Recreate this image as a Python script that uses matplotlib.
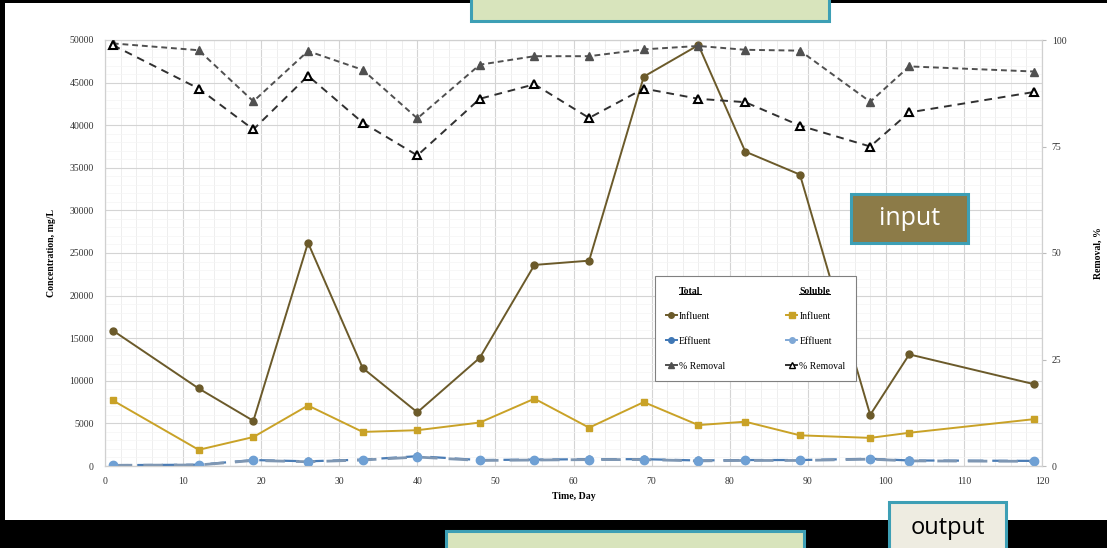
import numpy as np
import matplotlib
matplotlib.use("Agg")
import matplotlib.pyplot as plt
from matplotlib.lines import Line2D
from matplotlib.patches import Rectangle

plt.rcParams['font.family'] = ['Liberation Serif', 'DejaVu Serif']

# data
days = [1, 12, 19, 26, 33, 40, 48, 55, 62, 69, 76, 82, 89, 98, 103, 119]
total_influent = [15900, 9100, 5300, 26200, 11500, 6300, 12700, 23600, 24100,
                  45700, 49400, 36900, 34200, 6000, 13100, 9600]
soluble_influent = [7700, 1900, 3400, 7100, 4000, 4200, 5100, 7900, 4500,
                    7500, 4800, 5200, 3600, 3300, 3900, 5500]
total_effluent = [100, 150, 700, 550, 750, 1150, 700, 750, 800, 800, 650,
                  700, 700, 850, 650, 600]
soluble_effluent = [80, 120, 650, 500, 700, 1050, 650, 700, 750, 750, 600,
                    650, 650, 800, 600, 550]
total_removal = [99.2, 97.6, 85.6, 97.4, 93.0, 81.6, 94.2, 96.2, 96.2,
                 97.8, 98.6, 97.7, 97.5, 85.5, 93.8, 92.6]
soluble_removal = [98.8, 88.6, 79.0, 91.6, 80.6, 72.9, 86.2, 89.6, 81.7,
                   88.6, 86.2, 85.4, 79.9, 75.0, 83.0, 87.8]

fig = plt.figure(figsize=(11.07, 5.48), dpi=100)
fig.patch.set_facecolor('black')

W, H = 1107.0, 548.0
def px(x0, y0, x1, y1):
    # pixel box -> figure fraction rect
    return (x0 / W, 1 - y1 / H, (x1 - x0) / W, (y1 - y0) / H)

# white slide panel
r = px(5, 3, 1107, 520)
fig.patches.append(Rectangle(r[:2], r[2], r[3], transform=fig.transFigure,
                             facecolor='white', edgecolor='none', zorder=-5))

ax = fig.add_axes(px(105, 40, 1042, 466))
ax.set_facecolor('white')
ax2 = ax.twinx()

ax.plot(days, total_influent, color='#6b5a2a', marker='o', ms=5, lw=1.4, zorder=3)
ax.plot(days, soluble_influent, color='#c9a227', marker='s', ms=5, lw=1.4, zorder=3)
ax.plot(days, total_effluent, color='#4a7cb5', marker='o', ms=5, lw=1.6,
        dashes=(7, 4), zorder=3)
ax.plot(days, soluble_effluent, color='#7f97b3', marker='o', ms=6, lw=2,
        dashes=(7, 4), markerfacecolor='#6fa0d4', markeredgecolor='#6fa0d4', zorder=4)

ax2.plot(days, total_removal, color='#505050', marker='^', ms=6, lw=1.4,
         dashes=(3, 2), zorder=3)
ax2.plot(days, soluble_removal, color='#303030', marker='^', ms=6, lw=1.4,
         dashes=(4, 3), markerfacecolor='white', markeredgecolor='black',
         markeredgewidth=1.5, zorder=3)

ax.set_xlim(0, 120)
ax.set_ylim(0, 50000)
ax2.set_ylim(0, 100)
ax.set_xticks(np.arange(0, 121, 10))
ax.set_yticks(np.arange(0, 50001, 5000))
ax.set_xticks(np.arange(0, 121, 2), minor=True)
ax.set_yticks(np.arange(0, 50001, 1000), minor=True)
ax2.set_yticks([0, 25, 50, 75, 100])

ax.grid(which='major', color='#d4d4d4', lw=0.8)
ax.grid(which='minor', axis='x', color='#ebebeb', lw=0.6)
ax.grid(which='minor', axis='y', color='#f4f4f4', lw=0.5)
ax.set_axisbelow(True)

for a in (ax, ax2):
    for s in a.spines.values():
        s.set_color('#d0d0d0')
    a.tick_params(which='both', length=0, labelsize=7, colors='#333333', pad=8)
ax2.tick_params(axis='y', length=3, color='#bbbbbb', pad=4)
ax.spines['bottom'].set_color('#a8a8a8')

ax.set_xlabel('Time, Day', fontsize=7, fontweight='bold', labelpad=4)
ax.set_ylabel('Concentration, mg/L', fontsize=7, fontweight='bold', labelpad=10)
ax2.set_ylabel('Removal, %', fontsize=7, fontweight='bold', labelpad=20)

# legend with two columns: Total / Soluble
blank = Line2D([], [], lw=0, marker=None)
handles = [blank,
           Line2D([], [], color='#6b5a2a', marker='o', ms=4, lw=1.4),
           Line2D([], [], color='#3f77b5', marker='o', ms=4, lw=1.4),
           Line2D([], [], color='#505050', marker='^', ms=5, lw=1.4),
           blank,
           Line2D([], [], color='#c9a227', marker='s', ms=4, lw=1.4),
           Line2D([], [], color='#7fa8d6', marker='o', ms=4, lw=1.4),
           Line2D([], [], color='#303030', marker='^', ms=5, lw=1.4,
                  markerfacecolor='white', markeredgecolor='black')]
labels = ['Total', 'Influent', 'Effluent', '% Removal',
          'Soluble', 'Influent', 'Effluent', '% Removal']
leg = ax2.legend(handles, labels, ncol=2, loc='upper left',
                 bbox_to_anchor=(545 / 937, 1 - 231 / 426), fontsize=7,
                 handlelength=1.2, handletextpad=0.2, columnspacing=6.2,
                 labelspacing=1.65, borderpad=1.1, fancybox=False,
                 framealpha=1, edgecolor='#808080')
leg.get_frame().set_linewidth(0.8)
leg.set_zorder(10)
headers = [leg.get_texts()[0], leg.get_texts()[4]]
for t in headers:
    t.set_fontweight('bold')

# slide overlays
def box(x0, y0, x1, y1, fc, text=None, tc='black', fs=14):
    rr = px(x0, y0, x1, y1)
    fig.patches.append(Rectangle(rr[:2], rr[2], rr[3], transform=fig.transFigure,
                                 facecolor=fc, edgecolor='#3d9fb5', lw=2.2, zorder=20))
    if text:
        fig.text((x0 + x1) / 2 / W, 1 - (y0 + y1) / 2 / H, text, color=tc,
                 fontsize=fs, ha='center', va='center', family='Open Sans',
                 zorder=21)

box(471, -5, 829, 21, '#d8e4bc')
box(446, 531, 804, 555, '#d8e4bc')
box(851, 194, 968, 243, '#8c7b48', 'input', tc='white', fs=18)
box(889, 502, 1006, 555, '#eeece1', 'output', tc='black', fs=17)

# underline the legend column headers
fig.canvas.draw()
inv = fig.transFigure.inverted()
for t in headers:
    bb = t.get_window_extent().transformed(inv)
    fig.add_artist(Line2D([bb.x0, bb.x1], [bb.y0 + 0.002, bb.y0 + 0.002],
                          transform=fig.transFigure, color='black', lw=0.7,
                          zorder=11))

fig.savefig('out.png', dpi=100, facecolor=fig.get_facecolor())
